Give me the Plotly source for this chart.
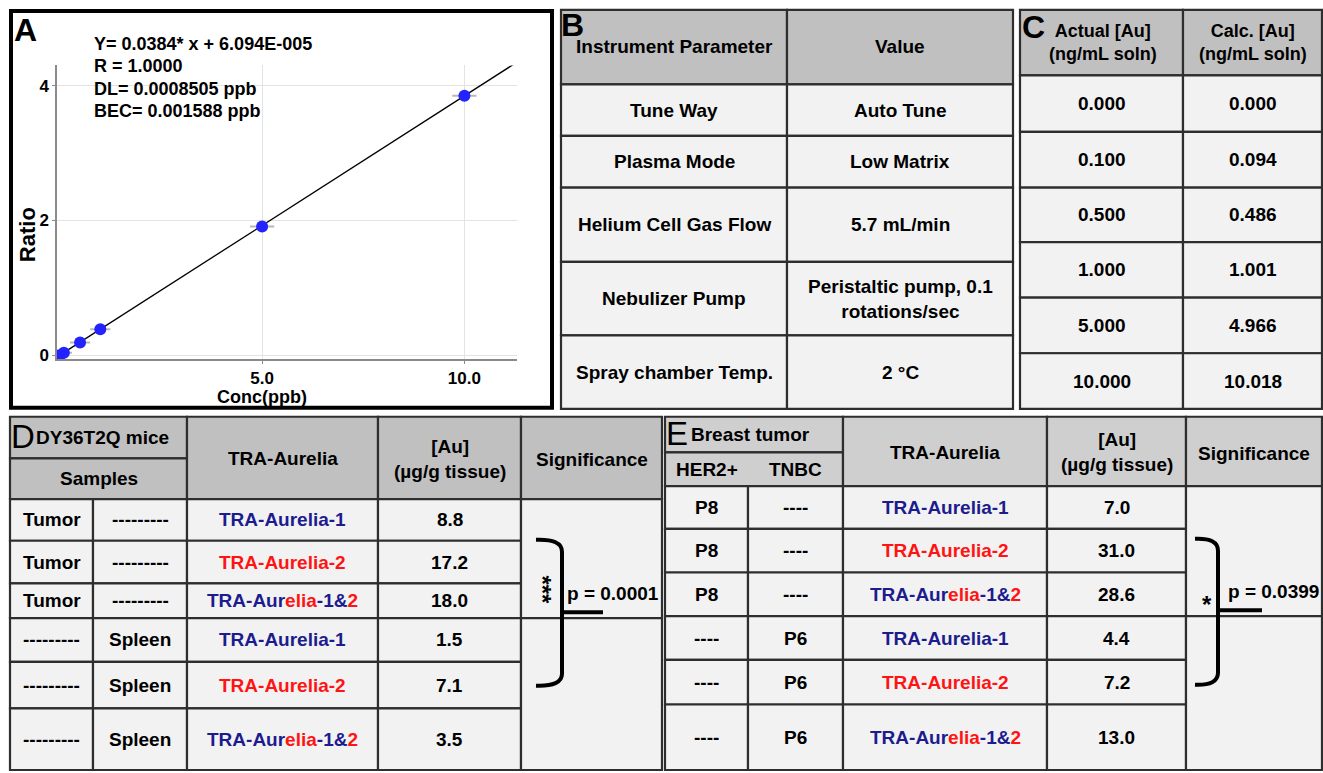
import plotly.graph_objects as go

W, H = 1323, 773

# ---------------- data ----------------
conc = [0.0, 0.1, 0.5, 1.0, 5.0, 10.0]
ratio = [0.0, 0.036, 0.187, 0.385, 1.909, 3.851]
ratio_xerr = [0.15, 0.2, 0.25, 0.25, 0.3, 0.3]
fit_x = [0.0, 11.3]
fit_y = [0.0, 4.35]
eq_lines = ["Y= 0.0384* x + 6.094E-005", "R = 1.0000", "DL= 0.0008505 ppb", "BEC= 0.001588 ppb"]
x_ticks = [5, 10]
x_ticktext = ["5.0", "10.0"]
y_ticks = [0, 2, 4]

b_header = ["Instrument Parameter", "Value"]
b_params = ["Tune Way", "Plasma Mode", "Helium Cell Gas Flow", "Nebulizer Pump", "Spray chamber Temp."]
b_values = ["Auto Tune", "Low Matrix", "5.7 mL/min", "Peristaltic pump, 0.1<br>rotations/sec", "2 °C"]

c_header = ["Actual [Au]<br>(ng/mL soln)", "Calc. [Au]<br>(ng/mL soln)"]
c_actual = [0.000, 0.100, 0.500, 1.000, 5.000, 10.000]
c_calc = [0.000, 0.094, 0.486, 1.001, 4.966, 10.018]

d_title = "DY36T2Q mice"
d_col1 = ["Tumor", "Tumor", "Tumor", "---------", "---------", "---------"]
d_col2 = ["---------", "---------", "---------", "Spleen", "Spleen", "Spleen"]
d_agent = ["TRA-Aurelia-1", "TRA-Aurelia-2", "TRA-Aurelia-1&2", "TRA-Aurelia-1", "TRA-Aurelia-2", "TRA-Aurelia-1&2"]
d_au = [8.8, 17.2, 18.0, 1.5, 7.1, 3.5]
d_p = "p = 0.0001"
d_stars = "***"

e_title = "Breast tumor"
e_col1 = ["P8", "P8", "P8", "----", "----", "----"]
e_col2 = ["----", "----", "----", "P6", "P6", "P6"]
e_agent = ["TRA-Aurelia-1", "TRA-Aurelia-2", "TRA-Aurelia-1&2", "TRA-Aurelia-1", "TRA-Aurelia-2", "TRA-Aurelia-1&2"]
e_au = [7.0, 31.0, 28.6, 4.4, 7.2, 13.0]
e_p = "p = 0.0399"
e_stars = "*"

# ---------------- styles / layout ----------------
FONT = "Liberation Sans, Arial, sans-serif"
NAVY = "#1c1c8f"
RED = "#ff1414"
HDR = "#c0c0c0"
HDR_E = "#cfcfcf"
BODY = "#f2f2f2"
LINE = "#2e2e2e"
TS = 19


def px(x):
    return x / W


def py(y):
    return 1 - y / H


fig = go.Figure()

# Panel A scatter
fig.add_trace(go.Scatter(x=fit_x, y=fit_y, mode="lines",
                         line=dict(color="black", width=1.3), showlegend=False, hoverinfo="skip"))
fig.add_trace(go.Scatter(x=conc, y=ratio, mode="markers",
                         marker=dict(color="#2323ff", size=12, line=dict(width=0)),
                         error_x=dict(type="data", array=ratio_xerr, color="#b8b8b8", thickness=2, width=0),
                         showlegend=False))

axis_common = dict(showline=True, linecolor="#8a8a8a", linewidth=1.5,
                   showgrid=True, gridcolor="#e3e3e3", gridwidth=1.2, zeroline=False,
                   ticks="outside", ticklen=3, tickcolor="#8a8a8a",
                   tickfont=dict(family=FONT, size=17, color="black"))
fig.update_xaxes(domain=[px(57), px(517)], range=[-0.07, 11.3],
                 tickvals=x_ticks, ticktext=[f"<b>{t}</b>" for t in x_ticktext], **axis_common)
fig.update_yaxes(domain=[py(362), py(66)], range=[-0.06, 4.3],
                 tickvals=y_ticks, ticktext=[f"<b>{t}</b>" for t in y_ticks], **axis_common)

shapes = []
annots = []


def text(x, y, s, size=TS, color="black", xanchor="center", yanchor="middle", angle=0, bold=True, align="center"):
    annots.append(dict(x=px(x), y=py(y), xref="paper", yref="paper", text=(f"<b>{s}</b>" if bold else s),
                       showarrow=False, xanchor=xanchor, yanchor=yanchor, textangle=angle, align=align,
                       font=dict(family=FONT, size=size, color=color)))


def cell(x0, x1, y0, y1, fill, lw=2.2):
    shapes.append(dict(type="rect", xref="paper", yref="paper", x0=px(x0), x1=px(x1), y0=py(y1), y1=py(y0),
                       fillcolor=fill, line=dict(color=LINE, width=lw), layer="below"))


def agent_html(name):
    if name.endswith("1&2"):
        return (f"<span style='color:{NAVY}'>TRA-Aur</span><span style='color:{RED}'>elia</span>"
                f"<span style='color:{NAVY}'>-1&amp;</span><span style='color:{RED}'>2</span>")
    col = NAVY if name.endswith("-1") else RED
    return f"<span style='color:{col}'>{name}</span>"


# Panel A frame and texts
shapes.append(dict(type="rect", xref="paper", yref="paper", x0=px(11), x1=px(552), y0=py(411), y1=py(11),
                   line=dict(color="black", width=4), fillcolor="rgba(0,0,0,0)"))
text(12, 30, "A", size=32, xanchor="left")
for i, s in enumerate(eq_lines):
    text(92, 44 + i * 22.7, s, size=18, xanchor="left")
text(27, 236, "Ratio", size=22, angle=-90)
text(262, 400, "Conc(ppb)", size=18)

# Panel B
bx = [561, 787, 1013]
by = [10, 85, 137, 189, 264, 338, 412]
for r in range(len(by) - 1):
    for c in range(2):
        cell(bx[c], bx[c + 1], by[r], by[r + 1], HDR if r == 0 else BODY)
for c in range(2):
    text((bx[c] + bx[c + 1]) / 2, 47, b_header[c])
for r in range(len(b_params)):
    yc = (by[r + 1] + by[r + 2]) / 2
    text((bx[0] + bx[1]) / 2, yc, b_params[r])
    text((bx[1] + bx[2]) / 2, yc, b_values[r])
text(559, 25, "B", size=32, xanchor="left")

# Panel C
cx = [1020, 1183, 1322]
cy = [10, 76, 133, 189, 244, 300, 356, 412]
for r in range(len(cy) - 1):
    for c in range(2):
        cell(cx[c], cx[c + 1], cy[r], cy[r + 1], HDR if r == 0 else BODY)
text(1103, 43, c_header[0], size=18)
text(1253, 43, c_header[1], size=18)
for r in range(len(c_actual)):
    yc = (cy[r + 1] + cy[r + 2]) / 2
    text((cx[0] + cx[1]) / 2, yc, f"{c_actual[r]:.3f}")
    text((cx[1] + cx[2]) / 2, yc, f"{c_calc[r]:.3f}")
text(1020, 27, "C", size=32, xanchor="left")


def sample_table(xs, hy, ry, title, letter, sub, col1, col2, agents, au, brace, hdr):
    # header
    cell(xs[0], xs[2], hy[0], hy[1], hdr)
    cell(xs[0], xs[2], hy[1], hy[2], hdr)
    for c in range(2, 5):
        cell(xs[c], xs[c + 1], hy[0], hy[2], hdr)
    # body
    for r in range(len(ry) - 1):
        for c in range(4):
            cell(xs[c], xs[c + 1], ry[r], ry[r + 1], BODY)
    cell(xs[4], xs[5], ry[0], ry[3], BODY)
    cell(xs[4], xs[5], ry[3], ry[6], BODY)
    # header text
    text(xs[0] - 1, (hy[0] + hy[1]) / 2 - 1, letter, size=33, xanchor="left", bold=False)
    text(xs[0] + 24, (hy[0] + hy[1]) / 2, title, xanchor="left")
    for i, s in enumerate(sub):
        if len(sub) == 1:
            text((xs[0] + xs[2]) / 2, (hy[1] + hy[2]) / 2, s)
        else:
            text((xs[i] + xs[i + 1]) / 2, (hy[1] + hy[2]) / 2, s)
    hm = (hy[0] + hy[2]) / 2
    text((xs[2] + xs[3]) / 2, hm + 1, "TRA-Aurelia")
    text((xs[3] + xs[4]) / 2, hm + 1, "[Au]<br>(µg/g tissue)")
    text((xs[4] + xs[5]) / 2, hm + 2, "Significance")
    for r in range(len(au)):
        yc = (ry[r] + ry[r + 1]) / 2
        text((xs[0] + xs[1]) / 2, yc, col1[r])
        text((xs[1] + xs[2]) / 2, yc, col2[r])
        text((xs[2] + xs[3]) / 2, yc, agent_html(agents[r]))
        text((xs[3] + xs[4]) / 2, yc, f"{au[r]:.1f}")
    # brace
    bxv, ytop, ybot, yt, xl, xr = brace
    path = (f"M {px(xl)},{py(ytop)} Q {px(bxv)},{py(ytop - 1)} {px(bxv)},{py(ytop + 12)} "
            f"L {px(bxv)},{py(ybot - 12)} Q {px(bxv)},{py(ybot + 1)} {px(xl)},{py(ybot)}")
    shapes.append(dict(type="path", xref="paper", yref="paper", path=path, line=dict(color="black", width=4)))
    shapes.append(dict(type="line", xref="paper", yref="paper", x0=px(bxv), x1=px(xr), y0=py(yt), y1=py(yt),
                       line=dict(color="black", width=4)))


# Panel D
dxs = [10, 93, 187, 378, 521, 662]
dhy = [420, 462, 503]
dry = [503, 545, 588, 623, 667, 714, 776]
sample_table(dxs, dhy, dry, d_title, "D", ["Samples"], d_col1, d_col2, d_agent, d_au,
             (562, 544, 691, 617, 536, 603), HDR)
text(543, 594, d_stars, size=24, angle=90)
text(565, 598, d_p, xanchor="left")

# Panel E
exs = [665, 748, 843, 1047, 1186, 1322]
ehy = [420, 456, 490]
ery = [490, 533, 577, 621, 665, 710, 776]
sample_table(exs, ehy, ery, e_title, "E", ["HER2+", "TNBC"], e_col1, e_col2, e_agent, e_au,
             (1218, 543, 690, 615, 1195, 1262), HDR_E)
text(1207, 609, e_stars, size=24)
text(1226, 596, e_p, xanchor="left")

fig.update_layout(width=W, height=H, margin=dict(l=0, r=0, t=0, b=0),
                  paper_bgcolor="white", plot_bgcolor="white",
                  shapes=shapes, annotations=annots, showlegend=False)

fig.write_html("out.html", config={"displayModeBar": False},
               post_script="document.body.style.margin='0';document.body.style.overflow='hidden';")
